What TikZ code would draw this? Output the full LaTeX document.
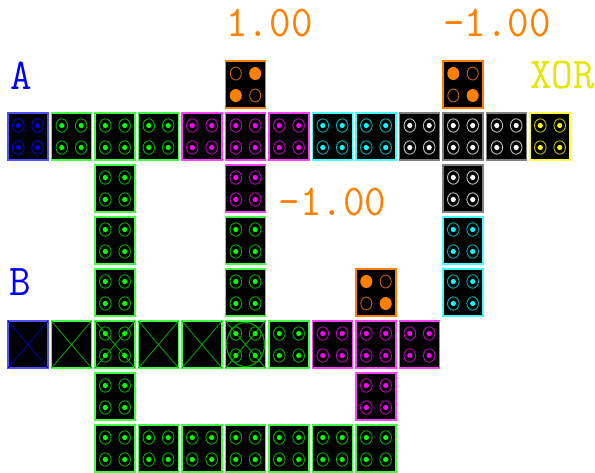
\documentclass[tikz,border=0pt]{standalone}
\usepackage{fontspec}
\usetikzlibrary{calc}
\definecolor{blueborder}{RGB}{80,80,255}
\definecolor{bluering}{RGB}{0,0,220}
\definecolor{blue}{RGB}{0,0,255}
\definecolor{bluex}{RGB}{0,0,170}
\definecolor{greenborder}{RGB}{64,255,64}
\definecolor{greenring}{RGB}{0,176,0}
\definecolor{green}{RGB}{0,255,0}
\definecolor{greenx}{RGB}{0,160,0}
\definecolor{magborder}{RGB}{255,64,255}
\definecolor{magring}{RGB}{192,0,192}
\definecolor{mag}{RGB}{255,0,255}
\definecolor{cyanborder}{RGB}{64,255,255}
\definecolor{cyanring}{RGB}{0,176,176}
\definecolor{cyan}{RGB}{0,255,255}
\definecolor{whiteborder}{RGB}{128,128,128}
\definecolor{whitering}{RGB}{192,192,192}
\definecolor{white}{RGB}{255,255,255}
\definecolor{yelborder}{RGB}{255,255,64}
\definecolor{yelring}{RGB}{192,192,0}
\definecolor{yel}{RGB}{255,255,0}
\definecolor{orange}{RGB}{255,128,0}
\definecolor{orangering}{RGB}{200,100,0}
\definecolor{labelblue}{RGB}{0,0,255}
\definecolor{labelyel}{RGB}{230,230,0}
\newcommand\lbltext[1]{\scalebox{0.95}[1]{\ttfamily\fontsize{44}{44}\selectfont #1}}
\tikzset{
  tilebox/.style={draw=#1, fill=black, line width=1.2pt, minimum width=40pt, minimum height=47pt, inner sep=0pt, outer sep=0pt},
  lbl/.style={inner sep=0pt, anchor=base},
}
% name, col, row, colour prefix
\newcommand\dtile[4]{%
  \node[tilebox=#4border] (#1) at ({28+43.5*#2},{136.5+52*#3}) {};
}
\newcommand\tdots[2]{%
  \foreach \dx in {-9.7,9.7}{\foreach \dy in {-11,11}{
    \draw[#2ring, line width=0.9pt] ($(#1.center)+(\dx,\dy)$) ellipse (5.8pt and 6.7pt);
    \fill[#2] ($(#1.center)+(\dx,\dy)$) circle (2.6pt);
  }}%
}
\newcommand\tcross[2]{%
  \draw[#2, line width=0.9pt] (#1.north west) -- (#1.south east) (#1.north east) -- (#1.south west);
}
% orange tile: name, col, row, type (1: TL hollow; 2: TL filled)
\newcommand\otile[4]{%
  \node[tilebox=orange] (#1) at ({28+43.5*#2},{136.5+52*#3}) {};
  \ifnum#4=1
    \draw[orangering, line width=0.9pt] ($(#1.center)+(-9.7,-11)$) ellipse (5.5pt and 6.5pt);
    \draw[orangering, line width=0.9pt] ($(#1.center)+(9.7,11)$) ellipse (5.5pt and 6.5pt);
    \fill[orange] ($(#1.center)+(9.7,-11)$) ellipse (6pt and 6.5pt);
    \fill[orange] ($(#1.center)+(-9.7,11)$) ellipse (6pt and 6.5pt);
  \else
    \draw[orangering, line width=0.9pt] ($(#1.center)+(9.7,-11)$) ellipse (5.5pt and 6.5pt);
    \draw[orangering, line width=0.9pt] ($(#1.center)+(-9.7,11)$) ellipse (5.5pt and 6.5pt);
    \fill[orange] ($(#1.center)+(-9.7,-11)$) ellipse (6pt and 6.5pt);
    \fill[orange] ($(#1.center)+(9.7,11)$) ellipse (6pt and 6.5pt);
  \fi
}
\begin{document}
\begin{tikzpicture}[x=1pt,y=-1pt]
\useasboundingbox (0,0) rectangle (595,472);
\clip (0,0) rectangle (595,472);
% labels
\node[lbl, text=orange] (v1) at (269.5,36) {\lbltext{1.00}};
\node[lbl, text=orange] (v2) at (497,36) {\lbltext{-1.00}};
\node[lbl, text=orange] (v3) at (332.5,215) {\lbltext{-1.00}};
\node[lbl, text=labelblue] (la) at (21,89) {\lbltext{A}};
\node[lbl, text=labelblue] (lb) at (20.5,295.5) {\lbltext{B}};
\node[lbl, text=labelyel, anchor=base west] (lx) at (530,88) {\lbltext{XOR}};
% orange tiles
\otile{o1}{5}{-1}{1}
\otile{o2}{10}{-1}{2}
\otile{o3}{8}{3}{2}
% row A
\dtile{a0}{0}{0}{blue}\tdots{a0}{blue}
\foreach \c in {1,2,3}{\dtile{a\c}{\c}{0}{green}\tdots{a\c}{green}}
\foreach \c in {4,5,6}{\dtile{a\c}{\c}{0}{mag}\tdots{a\c}{mag}}
\foreach \c in {7,8}{\dtile{a\c}{\c}{0}{cyan}\tdots{a\c}{cyan}}
\foreach \c in {9,10,11}{\dtile{a\c}{\c}{0}{white}\tdots{a\c}{white}}
\dtile{a12}{12}{0}{yel}\tdots{a12}{yel}
% column 2
\foreach \r in {1,2,3,5}{\dtile{p\r}{2}{\r}{green}\tdots{p\r}{green}}
% column 5
\dtile{q1}{5}{1}{mag}\tdots{q1}{mag}
\foreach \r in {2,3}{\dtile{q\r}{5}{\r}{green}\tdots{q\r}{green}}
% column 10
\dtile{w1}{10}{1}{white}\tdots{w1}{white}
\foreach \r in {2,3}{\dtile{w\r}{10}{\r}{cyan}\tdots{w\r}{cyan}}
% row B
\dtile{b0}{0}{4}{blue}\tcross{b0}{bluex}
\foreach \c in {1,3,4}{\dtile{b\c}{\c}{4}{green}\tcross{b\c}{greenx}}
\dtile{b2}{2}{4}{green}\tcross{b2}{greenx}\tdots{b2}{green}
\dtile{b5}{5}{4}{green}
\draw[greenx, line width=1.2pt] (b5.center) ellipse (19pt and 22pt);
\tcross{b5}{greenx}\tdots{b5}{green}
\dtile{b6}{6}{4}{green}\tdots{b6}{green}
\foreach \c in {7,8,9}{\dtile{b\c}{\c}{4}{mag}\tdots{b\c}{mag}}
% row 5
\dtile{m8}{8}{5}{mag}\tdots{m8}{mag}
% bottom row
\foreach \c in {2,...,8}{\dtile{z\c}{\c}{6}{green}\tdots{z\c}{green}}
\end{tikzpicture}
\end{document}
